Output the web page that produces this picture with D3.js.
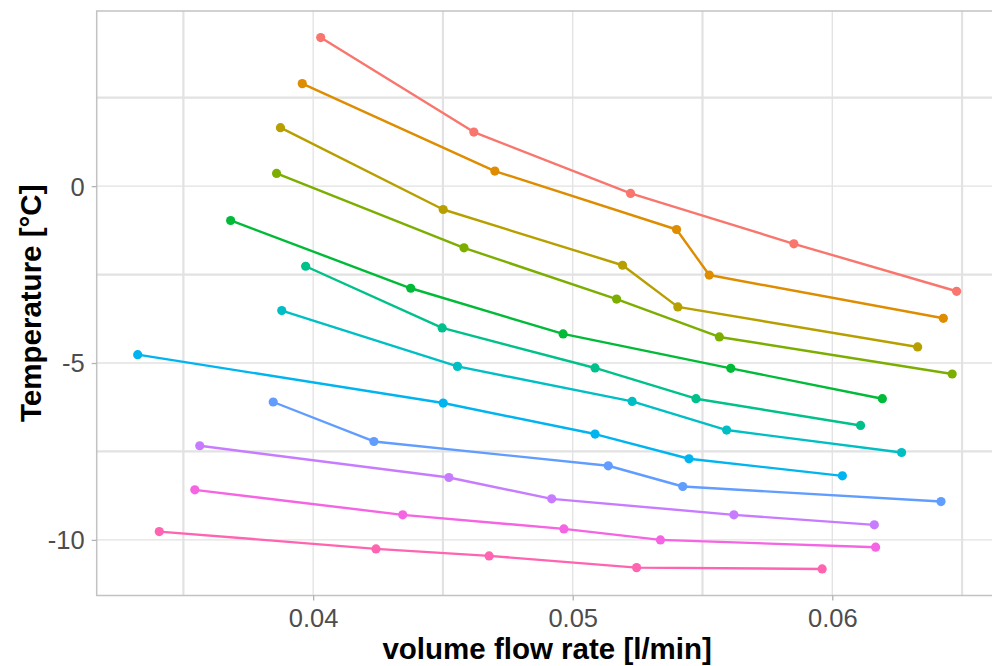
<!DOCTYPE html>
<html>
<head>
<meta charset="utf-8">
<script src="https://cdn.jsdelivr.net/npm/d3@7/dist/d3.min.js"></script>
<style>
  html, body { margin: 0; padding: 0; background: #ffffff; overflow: hidden; }
  svg { display: block; }
</style>
</head>
<body>
<svg id="chart" width="992" height="666"></svg>
<script>
// ---- data ----
const seriesNames = ["s1","s2","s3","s4","s5","s6","s7","s8","s9","s10","s11","s12"];
const seriesColors = ["#F8766D","#DE8C00","#B79F00","#7CAE00","#00BA38","#00C08B",
                      "#00BFC4","#00B4F0","#619CFF","#C77CFF","#F564E3","#FF64B0"];
const flowRates = [
  [0.04029, 0.04619, 0.05223, 0.05852, 0.06479],
  [0.03958, 0.04700, 0.05400, 0.05526, 0.06428],
  [0.03874, 0.04501, 0.05192, 0.05405, 0.06329],
  [0.03859, 0.04581, 0.05169, 0.05565, 0.06462],
  [0.03682, 0.04376, 0.04963, 0.05609, 0.06193],
  [0.03971, 0.04497, 0.05086, 0.05475, 0.06109],
  [0.03879, 0.04556, 0.05229, 0.05593, 0.06267],
  [0.03324, 0.04501, 0.05086, 0.05448, 0.06039],
  [0.03846, 0.04234, 0.05137, 0.05424, 0.06419],
  [0.03563, 0.04523, 0.04919, 0.05621, 0.06162],
  [0.03544, 0.04345, 0.04966, 0.05338, 0.06167],
  [0.03407, 0.04242, 0.04678, 0.05246, 0.05961]
];
const temperatures = [
  [4.200, 1.528, -0.207, -1.630, -2.972],
  [2.898, 0.425, -1.226, -2.513, -3.736],
  [1.653, -0.660, -2.236, -3.414, -4.546],
  [0.359, -1.744, -3.193, -4.263, -5.310],
  [-0.971, -2.887, -4.178, -5.151, -6.009],
  [-2.264, -4.008, -5.140, -6.009, -6.765],
  [-3.518, -5.095, -6.085, -6.895, -7.529],
  [-4.764, -6.131, -7.008, -7.707, -8.189],
  [-6.102, -7.218, -7.905, -8.491, -8.916],
  [-7.339, -8.237, -8.840, -9.292, -9.575],
  [-8.585, -9.292, -9.689, -10.000, -10.207],
  [-9.765, -10.255, -10.453, -10.784, -10.821]
];
const xMajorTicks = [0.04, 0.05, 0.06];
const xMinorTicks = [0.035, 0.045, 0.055, 0.065];
const yMajorTicks = [-10, -5, 0];
const yMinorTicks = [-7.5, -2.5, 2.5];
const xTickLabels = ["0.04", "0.05", "0.06"];
const yTickLabels = ["-10", "-5", "0"];
const xTitle = "volume flow rate [l/min]";
const yTitle = "Temperature [°C]";

// ---- layout ----
const panel = { left: 96.7, right: 997.6, top: 11, bottom: 595.5 };
const svg = d3.select("#chart");
const FONT = "'Liberation Sans', Arial, Helvetica, sans-serif";

const x = d3.scaleLinear().domain([0.03166, 0.06637]).range([panel.left, panel.right]);
const y = d3.scaleLinear().domain([-11.572, 4.951]).range([panel.bottom, panel.top]);

// grid
const grid = svg.append("g");
grid.selectAll("line.xminor").data(xMinorTicks).join("line")
  .attr("x1", d => x(d)).attr("x2", d => x(d))
  .attr("y1", panel.top).attr("y2", panel.bottom)
  .attr("stroke", "#e2e2e2").attr("stroke-width", 2.2);
grid.selectAll("line.yminor").data(yMinorTicks).join("line")
  .attr("y1", d => y(d)).attr("y2", d => y(d))
  .attr("x1", panel.left).attr("x2", panel.right)
  .attr("stroke", "#e2e2e2").attr("stroke-width", 2.2);
grid.selectAll("line.xmajor").data(xMajorTicks).join("line")
  .attr("x1", d => x(d)).attr("x2", d => x(d))
  .attr("y1", panel.top).attr("y2", panel.bottom)
  .attr("stroke", "#e2e2e2").attr("stroke-width", 1.3);
grid.selectAll("line.ymajor").data(yMajorTicks).join("line")
  .attr("y1", d => y(d)).attr("y2", d => y(d))
  .attr("x1", panel.left).attr("x2", panel.right)
  .attr("stroke", "#e2e2e2").attr("stroke-width", 1.3);

// panel border
svg.append("rect")
  .attr("x", panel.left).attr("y", panel.top)
  .attr("width", panel.right - panel.left).attr("height", panel.bottom - panel.top)
  .attr("fill", "none").attr("stroke", "#c2c2c2").attr("stroke-width", 1.5);

// axes
const xAxis = d3.axisBottom(x).tickValues(xMajorTicks)
  .tickFormat((d, i) => xTickLabels[i]).tickSize(5).tickPadding(4);
const gx = svg.append("g").attr("transform", `translate(0,${panel.bottom})`).call(xAxis);
gx.select(".domain").remove();
gx.selectAll(".tick line").attr("stroke", "#b3b3b3").attr("stroke-width", 1.3);
gx.selectAll(".tick text").attr("fill", "#4d4d4d").attr("font-family", FONT)
  .attr("font-size", 25.5).attr("dy", null).attr("y", 31.5);

const yAxis = d3.axisLeft(y).tickValues(yMajorTicks)
  .tickFormat((d, i) => yTickLabels[i]).tickSize(5).tickPadding(6);
const gy = svg.append("g").attr("transform", `translate(${panel.left},0)`).call(yAxis);
gy.select(".domain").remove();
gy.selectAll(".tick line").attr("stroke", "#b3b3b3").attr("stroke-width", 1.3);
gy.selectAll(".tick text").attr("fill", "#4d4d4d").attr("font-family", FONT)
  .attr("font-size", 25.5).attr("dy", "0.35em").attr("x", -12);

// titles
svg.append("text")
  .attr("x", (panel.left + panel.right) / 2).attr("y", 659)
  .attr("text-anchor", "middle").attr("font-family", FONT)
  .attr("font-weight", "bold").attr("font-size", 29.5).attr("fill", "#000")
  .text(xTitle);
svg.append("text")
  .attr("transform", `translate(41,${(panel.top + panel.bottom) / 2}) rotate(-90)`)
  .attr("text-anchor", "middle").attr("font-family", FONT)
  .attr("font-weight", "bold").attr("font-size", 29.5).attr("fill", "#000")
  .text(yTitle);

// series
const line = d3.line().x(d => x(d[0])).y(d => y(d[1]));
const plot = svg.append("g");
seriesNames.forEach((name, i) => {
  const pts = flowRates[i].map((f, j) => [f, temperatures[i][j]]);
  plot.append("path").datum(pts)
    .attr("d", line).attr("fill", "none")
    .attr("stroke", seriesColors[i]).attr("stroke-width", 2.4)
    .attr("stroke-linejoin", "round");
  plot.selectAll(null).data(pts).join("circle")
    .attr("cx", d => x(d[0])).attr("cy", d => y(d[1]))
    .attr("r", 4.6).attr("fill", seriesColors[i]);
});
</script>
</body>
</html>
